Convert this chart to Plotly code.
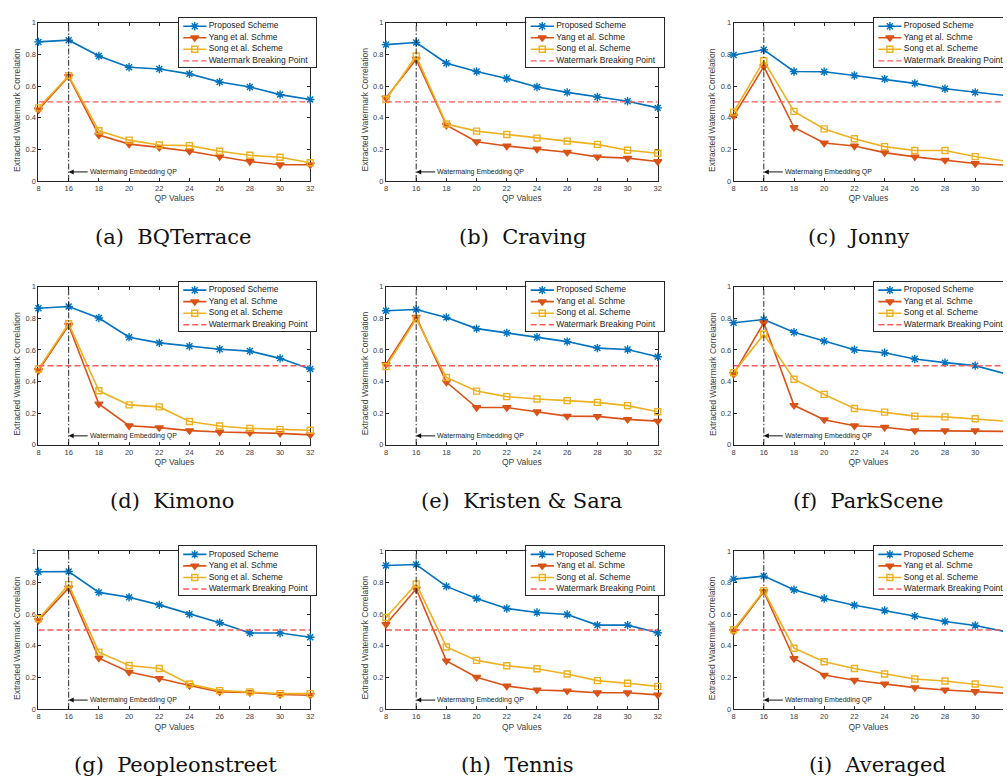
import plotly.graph_objects as go

# ---------------- data ----------------
QP_LABELS = ['8', '16', '18', '20', '22', '24', '26', '28', '30', '32']
EMBED_QP = '16'
BREAK_POINT = 0.5

SERIES_NAMES = ['Proposed Scheme', 'Yang et al. Schme', 'Song et al. Scheme', 'Watermark Breaking Point']
CAPTIONS = ['(a)  BQTerrace', '(b)  Craving', '(c)  Jonny',
            '(d)  Kimono', '(e)  Kristen & Sara', '(f)  ParkScene',
            '(g)  Peopleonstreet', '(h)  Tennis', '(i)  Averaged']
Y_TICKS = [0, 0.2, 0.4, 0.6, 0.8, 1]
Y_TICK_TEXT = ['0', '0.2', '0.4', '0.6', '0.8', '1']

bq_proposed = [0.879, 0.890, 0.790, 0.719, 0.708, 0.677, 0.625, 0.594, 0.546, 0.515]
bq_yang = [0.450, 0.660, 0.290, 0.233, 0.212, 0.188, 0.154, 0.123, 0.102, 0.102]
bq_song = [0.462, 0.665, 0.317, 0.258, 0.227, 0.223, 0.188, 0.162, 0.150, 0.115]

cr_proposed = [0.862, 0.875, 0.744, 0.692, 0.648, 0.594, 0.560, 0.531, 0.504, 0.462]
cr_yang = [0.525, 0.769, 0.352, 0.248, 0.221, 0.202, 0.181, 0.152, 0.144, 0.123]
cr_song = [0.515, 0.790, 0.360, 0.315, 0.294, 0.271, 0.252, 0.231, 0.194, 0.175]

jo_proposed = [0.796, 0.829, 0.692, 0.690, 0.667, 0.644, 0.617, 0.583, 0.560, 0.540]
jo_yang = [0.410, 0.723, 0.338, 0.240, 0.221, 0.179, 0.152, 0.131, 0.110, 0.100]
jo_song = [0.435, 0.760, 0.440, 0.329, 0.267, 0.217, 0.192, 0.192, 0.154, 0.125]

ki_proposed = [0.864, 0.875, 0.802, 0.681, 0.645, 0.624, 0.605, 0.593, 0.547, 0.480]
ki_yang = [0.470, 0.756, 0.259, 0.121, 0.109, 0.090, 0.081, 0.077, 0.073, 0.063]
ki_song = [0.480, 0.766, 0.342, 0.253, 0.240, 0.148, 0.119, 0.104, 0.098, 0.092]

ks_proposed = [0.848, 0.856, 0.806, 0.735, 0.708, 0.681, 0.653, 0.612, 0.603, 0.557]
ks_yang = [0.509, 0.808, 0.397, 0.236, 0.236, 0.209, 0.182, 0.180, 0.161, 0.150]
ks_song = [0.495, 0.795, 0.426, 0.340, 0.305, 0.290, 0.280, 0.269, 0.248, 0.209]

ps_proposed = [0.772, 0.793, 0.712, 0.656, 0.601, 0.582, 0.543, 0.520, 0.501, 0.450]
ps_yang = [0.447, 0.772, 0.250, 0.159, 0.121, 0.111, 0.090, 0.090, 0.090, 0.085]
ps_song = [0.457, 0.699, 0.415, 0.319, 0.230, 0.207, 0.182, 0.177, 0.165, 0.150]

pe_proposed = [0.868, 0.870, 0.738, 0.707, 0.659, 0.600, 0.546, 0.481, 0.481, 0.454]
pe_yang = [0.561, 0.766, 0.322, 0.234, 0.194, 0.149, 0.109, 0.105, 0.092, 0.088]
pe_song = [0.571, 0.787, 0.360, 0.276, 0.257, 0.159, 0.117, 0.109, 0.098, 0.098]

te_proposed = [0.908, 0.914, 0.776, 0.699, 0.636, 0.611, 0.598, 0.531, 0.531, 0.483]
te_yang = [0.536, 0.759, 0.305, 0.201, 0.146, 0.121, 0.115, 0.103, 0.103, 0.090]
te_song = [0.579, 0.791, 0.393, 0.308, 0.274, 0.255, 0.222, 0.180, 0.163, 0.144]

av_proposed = [0.822, 0.841, 0.755, 0.699, 0.657, 0.623, 0.588, 0.554, 0.529, 0.490]
av_yang = [0.492, 0.743, 0.320, 0.215, 0.182, 0.159, 0.136, 0.121, 0.111, 0.100]
av_song = [0.502, 0.749, 0.385, 0.299, 0.257, 0.222, 0.190, 0.178, 0.159, 0.135]

PANELS = [
    (bq_proposed, bq_yang, bq_song),
    (cr_proposed, cr_yang, cr_song),
    (jo_proposed, jo_yang, jo_song),
    (ki_proposed, ki_yang, ki_song),
    (ks_proposed, ks_yang, ks_song),
    (ps_proposed, ps_yang, ps_song),
    (pe_proposed, pe_yang, pe_song),
    (te_proposed, te_yang, te_song),
    (av_proposed, av_yang, av_song),
]

# ---------------- style / layout ----------------
W, H = 1007, 783
SANS = 'Liberation Sans, Arial, sans-serif'
SERIF = 'DejaVu Serif, Liberation Serif, serif'
AXC = '#262626'
TXT = '#404040'
COLORS = ['#0072BD', '#D95319', '#EDB120', '#FF5A5A']
SYMBOLS = ['asterisk-open', 'triangle-down', 'square-open']
SIZES = [7, 7, 6]

COL_LEFT = [36.7, 386.3, 736.0]
PLOT_W = 273.4
ROW_TOP = [19.0, 286.0, 553.3]
PLOT_H = 160.0
CAP_X = [173, 524, 862, 171, 523, 872, 175, 519, 881]
CAP_Y = [235.5, 502.5, 769.5]
ARROW_Y = 0.057

LEG_DX, LEG_DY, LEG_W, LEG_H = 141.2, -5.0, 138.4, 50.0
LEG_ROWS = [8.5, 20.1, 31.8, 43.5]
LEG_LINE = [4.4, 16.0, 27.7]
LEG_TEXT_X = 30.0

fig = go.Figure()
layout = {}
annotations = []
n_int = len(QP_LABELS) - 1

for k, series in enumerate(PANELS):
    r, c = divmod(k, 3)
    i = k + 1
    xa = 'x' if i == 1 else f'x{i}'
    ya = 'y' if i == 1 else f'y{i}'
    left = COL_LEFT[c]
    right = min(left + PLOT_W, W)
    top = ROW_TOP[r]
    bottom = top + PLOT_H
    last = c == 2

    layout['xaxis' if i == 1 else f'xaxis{i}'] = dict(
        domain=[left / W, right / W], anchor=ya, type='category',
        categoryorder='array', categoryarray=QP_LABELS,
        range=[0, (right - left) / PLOT_W * n_int],
        showline=True, linecolor=AXC, linewidth=1, mirror='ticks',
        ticks='inside', ticklen=3, tickcolor=AXC, tickwidth=1,
        tickfont=dict(family=SANS, size=7.5, color=TXT),
        showgrid=False, zeroline=False, fixedrange=True, layer='below traces',
        title=dict(text='QP Values', font=dict(family=SANS, size=8.5, color=TXT), standoff=3),
    )
    layout['yaxis' if i == 1 else f'yaxis{i}'] = dict(
        domain=[1 - bottom / H, 1 - top / H], anchor=xa, range=[0, 1],
        tickvals=Y_TICKS, ticktext=Y_TICK_TEXT,
        showline=True, linecolor=AXC, linewidth=1, mirror=False if last else 'ticks',
        ticks='inside', ticklen=3, tickcolor=AXC, tickwidth=1,
        tickfont=dict(family=SANS, size=7.5, color=TXT),
        showgrid=False, zeroline=False, fixedrange=True, layer='below traces',
    )

    for s, vals in enumerate(series):
        fig.add_trace(go.Scatter(
            x=QP_LABELS, y=vals, mode='lines+markers', name=SERIES_NAMES[s],
            line=dict(color=COLORS[s], width=1.6),
            marker=dict(symbol=SYMBOLS[s], size=SIZES[s], color=COLORS[s],
                        line=dict(color=COLORS[s], width=1.4)),
            xaxis=xa, yaxis=ya, showlegend=False, cliponaxis=False))
    fig.add_trace(go.Scatter(
        x=QP_LABELS, y=[BREAK_POINT] * len(QP_LABELS), mode='lines', name=SERIES_NAMES[3],
        line=dict(color=COLORS[3], width=1.4, dash='6px,3px'),
        xaxis=xa, yaxis=ya, showlegend=False, cliponaxis=False))
    fig.add_trace(go.Scatter(
        x=[EMBED_QP, EMBED_QP], y=[0, 1], mode='lines', name='Watermarking Embedding QP',
        line=dict(color='#111111', width=0.9, dash='6px,2px,1.5px,2px'),
        xaxis=xa, yaxis=ya, showlegend=False, hoverinfo='skip'))

    annotations.append(dict(
        xref=xa, yref=ya, x=QP_LABELS.index(EMBED_QP), y=ARROW_Y,
        ax=19, ay=0, showarrow=True, arrowhead=2, arrowsize=1, arrowwidth=1,
        arrowcolor='#111111', xanchor='left', text='Watermaing Embedding QP',
        font=dict(family=SANS, size=7, color='#222222')))

    # y-axis title
    annotations.append(dict(
        xref='paper', yref='paper', x=(left - 21.5) / W, y=1 - (top + PLOT_H / 2 + 8) / H,
        text='Extracted Watermark Correlation', textangle=-90, showarrow=False,
        font=dict(family=SANS, size=8.5, color=TXT), xanchor='center', yanchor='middle'))

    # caption
    annotations.append(dict(
        xref='paper', yref='paper', x=CAP_X[k] / W, y=1 - CAP_Y[r] / H,
        text=CAPTIONS[k], showarrow=False, xanchor='center', yanchor='middle',
        font=dict(family=SERIF, size=21, color='#111111')))

    # legend box as an overlay subplot
    j = 10 + k
    lx0 = left + LEG_DX
    lx1 = min(lx0 + LEG_W, W)
    ly0 = top + LEG_DY
    ly1 = ly0 + LEG_H
    layout[f'xaxis{j}'] = dict(
        domain=[lx0 / W, lx1 / W], anchor=f'y{j}', range=[0, lx1 - lx0],
        showline=True, mirror=True, linecolor=AXC, linewidth=1,
        showticklabels=False, ticks='', showgrid=False, zeroline=False, fixedrange=True)
    layout[f'yaxis{j}'] = dict(
        domain=[1 - ly1 / H, 1 - ly0 / H], anchor=f'x{j}', range=[LEG_H, 0],
        showline=True, mirror=not last, linecolor=AXC, linewidth=1,
        showticklabels=False, ticks='', showgrid=False, zeroline=False, fixedrange=True)
    for s in range(4):
        yy = [LEG_ROWS[s]] * 3
        if s < 3:
            fig.add_trace(go.Scatter(
                x=LEG_LINE, y=yy, mode='lines+markers', name=SERIES_NAMES[s],
                line=dict(color=COLORS[s], width=1.6),
                marker=dict(symbol=SYMBOLS[s], size=SIZES[s], color=COLORS[s],
                            opacity=[0, 1, 0], line=dict(color=COLORS[s], width=1.4)),
                xaxis=f'x{j}', yaxis=f'y{j}', showlegend=False, hoverinfo='skip'))
        else:
            fig.add_trace(go.Scatter(
                x=LEG_LINE, y=yy, mode='lines', name=SERIES_NAMES[s],
                line=dict(color=COLORS[s], width=1.4, dash='6px,3px'),
                xaxis=f'x{j}', yaxis=f'y{j}', showlegend=False, hoverinfo='skip'))
        fig.add_trace(go.Scatter(
            x=[LEG_TEXT_X], y=[LEG_ROWS[s]], mode='text', text=[SERIES_NAMES[s]],
            textposition='middle right',
            textfont=dict(family=SANS, size=8.5, color='#222222'),
            xaxis=f'x{j}', yaxis=f'y{j}', showlegend=False, hoverinfo='skip',
            cliponaxis=False))

fig.update_layout(
    width=W, height=H, margin=dict(l=0, r=0, t=0, b=0, pad=0),
    paper_bgcolor='white', plot_bgcolor='white', showlegend=False,
    annotations=annotations, **layout)

fig.write_html('out.html')
